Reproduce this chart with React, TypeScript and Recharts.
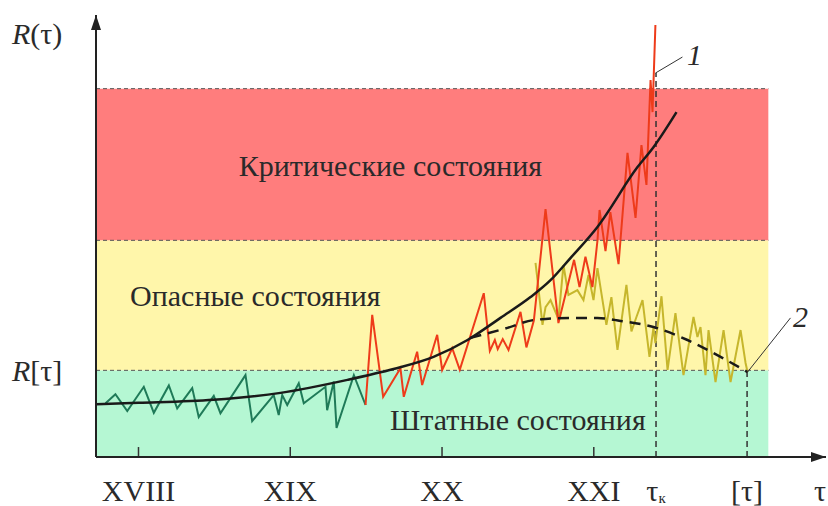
import React from 'react';
import {
  LineChart, Line, XAxis, YAxis, ReferenceArea, ReferenceLine, ReferenceDot,
} from 'recharts';

// x in "years" (XVIII = 1750 ... XXI = 2050), r = R(τ) in band units
const centuryTicks = [1750, 1850, 1950, 2050];
const centuryLabels = ['XVIII', 'XIX', 'XX', 'XXI'];
const tauCritical = 2091;
const tauLimit = 2151;
const tauAxisEnd = 2199;

const X_MIN = 1722;
const X_MAX = 2203;
const R_MAX = 10.2;
const BAND_END = 2165;

const normalLevel = 2;   // R[τ]
const criticalLevel = 5;
const topLevel = 8.5;

const bands = [
  { from: 0, to: normalLevel, fill: '#b5f7d3' },
  { from: normalLevel, to: criticalLevel, fill: '#fff6aa' },
  { from: criticalLevel, to: topLevel, fill: '#ff7d7d' },
];

const bandLabels = [
  { text: 'Критические состояния', x: 1916, r: 6.49 },
  { text: 'Опасные состояния', x: 1827, r: 3.48 },
  { text: 'Штатные состояния', x: 2000, r: 0.62 },
];

const greenSeries = [
  { x: 1728.3, r: 1.24 }, { x: 1734.8, r: 1.45 }, { x: 1742.6, r: 1.06 }, { x: 1753.5, r: 1.62 },
  { x: 1760.1, r: 1.02 }, { x: 1770.0, r: 1.65 }, { x: 1775.5, r: 1.12 }, { x: 1785.4, r: 1.59 },
  { x: 1789.7, r: 0.92 }, { x: 1799.6, r: 1.41 }, { x: 1804.0, r: 1.01 }, { x: 1820.5, r: 1.89 },
  { x: 1824.9, r: 0.83 }, { x: 1839.1, r: 1.43 }, { x: 1842.4, r: 0.97 }, { x: 1844.7, r: 1.43 },
  { x: 1848.0, r: 1.2 }, { x: 1855.6, r: 1.7 }, { x: 1858.9, r: 1.24 }, { x: 1873.2, r: 1.62 },
  { x: 1874.3, r: 1.08 }, { x: 1878.7, r: 1.74 }, { x: 1880.5, r: 0.67 }, { x: 1891.9, r: 1.89 },
  { x: 1899.6, r: 1.2 },
];

const redSeries = [
  { x: 1899.6, r: 1.2 }, { x: 1904.0, r: 3.28 }, { x: 1911.2, r: 1.39 }, { x: 1922.6, r: 2.05 },
  { x: 1924.8, r: 1.39 }, { x: 1933.6, r: 2.43 }, { x: 1936.9, r: 1.66 }, { x: 1946.8, r: 2.82 },
  { x: 1950.1, r: 2.01 }, { x: 1956.7, r: 2.51 }, { x: 1961.7, r: 2.01 }, { x: 1977.5, r: 3.78 },
  { x: 1981.5, r: 2.45 }, { x: 1984.8, r: 2.7 }, { x: 1986.7, r: 2.49 }, { x: 1990.0, r: 2.72 },
  { x: 1993.8, r: 2.47 }, { x: 2001.7, r: 3.35 }, { x: 2005.6, r: 2.53 }, { x: 2010.5, r: 3.15 },
  { x: 2018.2, r: 5.72 }, { x: 2026.7, r: 3.09 }, { x: 2037.0, r: 4.55 }, { x: 2040.6, r: 3.92 },
  { x: 2044.5, r: 4.62 }, { x: 2049.1, r: 3.92 }, { x: 2052.4, r: 4.99 }, { x: 2053.8, r: 5.7 },
  { x: 2057.7, r: 4.75 }, { x: 2060.9, r: 5.65 }, { x: 2066.3, r: 4.45 }, { x: 2072.2, r: 7.02 },
  { x: 2077.5, r: 5.52 }, { x: 2081.4, r: 7.2 }, { x: 2084.7, r: 6.28 }, { x: 2087.4, r: 8.7 },
  { x: 2088.7, r: 7.96 }, { x: 2090.6, r: 9.97 },
];

const oliveSeries = [
  { x: 2011.6, r: 4.48 }, { x: 2012.9, r: 4.09 }, { x: 2016.2, r: 3.05 }, { x: 2018.2, r: 3.46 },
  { x: 2021.5, r: 3.62 }, { x: 2026.7, r: 3.18 }, { x: 2030.0, r: 4.43 }, { x: 2033.3, r: 3.74 },
  { x: 2039.2, r: 3.85 }, { x: 2043.2, r: 3.62 }, { x: 2046.5, r: 4.2 }, { x: 2049.8, r: 3.62 },
  { x: 2052.4, r: 4.36 }, { x: 2058.3, r: 3.05 }, { x: 2061.6, r: 3.69 }, { x: 2065.6, r: 2.47 },
  { x: 2071.5, r: 3.97 }, { x: 2074.8, r: 2.9 }, { x: 2078.1, r: 3.23 }, { x: 2082.1, r: 3.62 },
  { x: 2086.7, r: 2.31 }, { x: 2089.3, r: 2.98 }, { x: 2090.6, r: 2.63 }, { x: 2094.6, r: 3.71 },
  { x: 2098.6, r: 2.01 }, { x: 2103.8, r: 3.32 }, { x: 2109.1, r: 1.89 }, { x: 2115.7, r: 3.23 },
  { x: 2118.3, r: 2.77 }, { x: 2120.3, r: 3.0 }, { x: 2123.6, r: 1.89 }, { x: 2125.6, r: 2.93 },
  { x: 2130.2, r: 1.73 }, { x: 2135.5, r: 2.93 }, { x: 2140.1, r: 1.73 }, { x: 2146.7, r: 2.93 },
  { x: 2150.0, r: 2.17 }, { x: 2151.3, r: 1.96 },
];

// trend 1 (growing) and trend 2 (dashed, stabilised)
const trendGrowth = [
  { x: 1722.3, r: 1.22 }, { x: 1750, r: 1.25 }, { x: 1799.4, r: 1.32 }, { x: 1843.6, r: 1.48 },
  { x: 1887.7, r: 1.78 }, { x: 1918.0, r: 2.03 }, { x: 1944.4, r: 2.31 }, { x: 1966.8, r: 2.7 },
  { x: 1988.5, r: 3.21 }, { x: 2008.3, r: 3.69 }, { x: 2021.5, r: 4.08 }, { x: 2034.6, r: 4.59 },
  { x: 2052.4, r: 5.31 }, { x: 2078.8, r: 6.69 }, { x: 2089.3, r: 7.15 }, { x: 2104.5, r: 7.96 },
];

const trendStable = [
  { x: 1968.8, r: 2.75 }, { x: 1993.1, r: 2.98 }, { x: 2010.3, r: 3.16 }, { x: 2034.6, r: 3.21 },
  { x: 2052.4, r: 3.21 }, { x: 2067.6, r: 3.14 }, { x: 2089.3, r: 3.0 }, { x: 2111.7, r: 2.7 },
  { x: 2133.5, r: 2.31 }, { x: 2151.3, r: 1.96 },
];

const FONT = '"Liberation Serif", "Times New Roman", serif';
const INK = '#2a2a2a';

const XTick = (props: any) => {
  const { x, payload } = props;
  const v = payload.value;
  const idx = centuryTicks.indexOf(v);
  let content: React.ReactNode = null;
  if (idx >= 0) content = centuryLabels[idx];
  else if (v === tauCritical) content = (<><tspan>τ</tspan><tspan fontSize={15} dy={2}>к</tspan></>);
  else if (v === tauLimit) content = '[τ]';
  else content = 'τ';
  return (
    <text x={x} y={501} textAnchor="middle" fontFamily={FONT} fontSize={30} fill={INK}>
      {content}
    </text>
  );
};

const YTick = (props: any) => {
  const { y, payload } = props;
  const isLimit = payload.value === normalLevel;
  return (
    <text x={12} y={y + 11} textAnchor="start" fontFamily={FONT} fontSize={30} fill={INK}>
      <tspan fontStyle="italic">R</tspan>
      <tspan>{isLimit ? '[τ]' : '(τ)'}</tspan>
    </text>
  );
};

const textShape = (text: string, italic = false) => (p: any) => (
  <text x={p.cx} y={p.cy} textAnchor="middle" fontFamily={FONT} fontSize={30}
    fontStyle={italic ? 'italic' : 'normal'} fill={INK}>{text}</text>
);

const upArrow = (p: any) => (
  <polygon points={`${p.cx},${p.cy} ${p.cx - 5},${p.cy + 15} ${p.cx + 5},${p.cy + 15}`} fill="#222" />
);
const rightArrow = (p: any) => (
  <polygon points={`${p.cx},${p.cy} ${p.cx - 15},${p.cy - 5} ${p.cx - 15},${p.cy + 5}`} fill="#222" />
);

export default function App() {
  return (
    <div style={{ position: 'absolute', left: 0, top: 0, width: 828, height: 506, background: '#fff' }}>
      <LineChart width={828} height={506} margin={{ top: 15, right: 2, bottom: 0, left: 36 }}>
        <XAxis
          type="number" dataKey="x" domain={[X_MIN, X_MAX]} allowDataOverflow
          ticks={[...centuryTicks, tauCritical, tauLimit, tauAxisEnd]} interval={0}
          tick={<XTick />} tickLine={false} tickSize={0} height={49}
          axisLine={{ stroke: '#222', strokeWidth: 2 }}
        />
        <YAxis
          type="number" dataKey="r" domain={[0, R_MAX]} allowDataOverflow
          ticks={[normalLevel, 9.78]} interval={0} tick={<YTick />} tickLine={false}
          width={60} axisLine={{ stroke: '#222', strokeWidth: 2 }}
        />

        {bands.map((b, i) => (
          <ReferenceArea key={`band-${i}`} x1={X_MIN} x2={BAND_END} y1={b.from} y2={b.to}
            fill={b.fill} fillOpacity={1} stroke="none" ifOverflow="visible" />
        ))}
        {[normalLevel, criticalLevel, topLevel].map((lv) => (
          <ReferenceLine key={`lv-${lv}`} segment={[{ x: X_MIN, y: lv }, { x: BAND_END, y: lv }]}
            stroke="#555" strokeDasharray="4 3" strokeWidth={1} ifOverflow="visible" />
        ))}

        {bandLabels.map((l) => (
          <ReferenceDot key={l.text} x={l.x} y={l.r} r={0} ifOverflow="visible" shape={textShape(l.text)} />
        ))}

        {centuryTicks.map((t) => (
          <ReferenceLine key={`tk-${t}`} segment={[{ x: t, y: 0 }, { x: t, y: 0.23 }]}
            stroke="#333" strokeWidth={1.5} ifOverflow="visible" />
        ))}

        <ReferenceLine segment={[{ x: tauCritical, y: 0 }, { x: tauCritical, y: 8.86 }]}
          stroke="#333" strokeDasharray="6 4" strokeWidth={1.5} ifOverflow="visible" />
        <ReferenceLine segment={[{ x: tauLimit, y: 0 }, { x: tauLimit, y: normalLevel }]}
          stroke="#333" strokeDasharray="6 4" strokeWidth={1.5} ifOverflow="visible" />

        <Line data={greenSeries} dataKey="r" type="linear" stroke="#1f7a58" strokeWidth={2}
          dot={false} isAnimationActive={false} />
        <Line data={oliveSeries} dataKey="r" type="linear" stroke="#c6b62c" strokeWidth={2}
          dot={false} isAnimationActive={false} />
        <Line data={redSeries} dataKey="r" type="linear" stroke="#ee3b1a" strokeWidth={2}
          dot={false} isAnimationActive={false} />
        <Line data={trendGrowth} dataKey="r" type="monotone" stroke="#1a1a1a" strokeWidth={2.5}
          dot={false} isAnimationActive={false} />
        <Line data={trendStable} dataKey="r" type="monotone" stroke="#1a1a1a" strokeWidth={2.5}
          strokeDasharray="11 7" dot={false} isAnimationActive={false} />

        {/* callouts 1 and 2 */}
        <ReferenceLine segment={[{ x: 2090.6, y: 8.86 }, { x: 2108.4, y: 9.23 }]}
          stroke="#333" strokeWidth={1} ifOverflow="visible" />
        <ReferenceLine segment={[{ x: 2151.3, y: 1.96 }, { x: 2179.6, y: 3.21 }]}
          stroke="#333" strokeWidth={1} ifOverflow="visible" />
        <ReferenceDot x={2116.3} y={9.05} r={0} ifOverflow="visible" shape={textShape('1', true)} />
        <ReferenceDot x={2186.2} y={3.0} r={0} ifOverflow="visible" shape={textShape('2', true)} />

        <ReferenceDot x={X_MIN} y={R_MAX} r={0} ifOverflow="visible" shape={upArrow} />
        <ReferenceDot x={X_MAX} y={0} r={0} ifOverflow="visible" shape={rightArrow} />
      </LineChart>
    </div>
  );
}
